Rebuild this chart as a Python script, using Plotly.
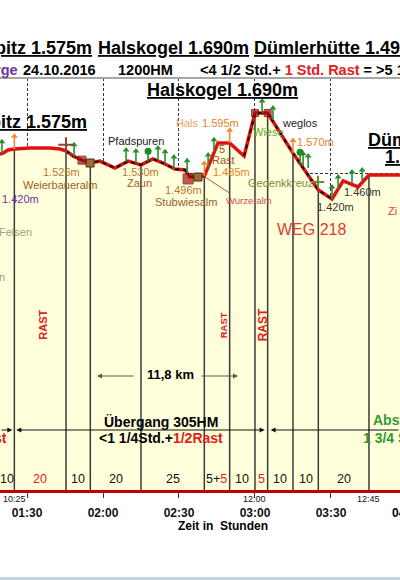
import plotly.graph_objects as go

FONT = "Arial, Liberation Sans, sans-serif"

# ---------------- data ----------------
# elapsed time in minutes since start (09:00) and elevation in m
profile_t = [78, 80.5, 82.5, 85, 91, 99, 103, 105.4, 108.2, 111.7, 115, 118.8, 124.7, 129.9, 135,
             139.7, 143.7, 148.4, 152.4, 154.3, 160, 165.4, 170, 175.7, 180, 185, 195, 205,
             210.4, 214.8, 220.7, 225, 240]
profile_e = [1558, 1564, 1574, 1577, 1580, 1580, 1577, 1571, 1555, 1542, 1533, 1539, 1517, 1539, 1527,
             1546, 1533, 1514, 1511, 1489, 1492, 1596, 1596, 1555, 1690, 1690, 1564, 1448,
             1420, 1477, 1458, 1495, 1495]

marked_path = [(105.4, 160), (175.7, 210.4)]          # dotted (marked path) sections

drop_t = [85, 105.4, 115, 135, 160, 170, 180, 185, 195, 205, 225]

seg_labels = ["10", "20", "10", "20", "25", "5+<span style='color:#E02020'>5</span>", "10", "5", "10", "10", "20"]
seg_center_t = [82, 95, 110, 125, 147.5, 165, 175, 182.5, 190, 200, 215]
seg_rest = [False, True, False, False, False, False, False, True, False, False, False]

clock_labels = ["10:25", "12:00", "12:45"]
clock_t = [85, 180, 225]

tick_t = [90, 120, 150, 180, 210]
tick_text = ["01:30", "02:00", "02:30", "03:00", "03:30"]

rast_t = [96.2, 167.5, 183.3]
rast_size = [11, 9.5, 12]

green_arrow_t = [80.1, 108.6, 129.1, 133, 141.7, 144.5, 148, 153.2, 161.5, 163.8, 182.8, 187.1,
                 199, 201, 210.4, 212.8, 218.3, 222.3]
green_arrow_e = [1562, 1552, 1536, 1533, 1542, 1530, 1514, 1502, 1520, 1568, 1690, 1668,
                 1524, 1517, 1420, 1451, 1467, 1473]
orange_arrow_t = [85, 160, 170, 195]
orange_arrow_e = [1577, 1492, 1596, 1564]
pin_t = [137.8, 197.8]
pin_e = [1536, 1533]
memorial_t = [204.9]
memorial_e = [1473]
summit_cross_t = [105.4]
summit_cross_e = [1590]
hut_red_t = [111.7, 153.6, 180, 185]
hut_red_e = [1542, 1483, 1690, 1690]
hut_red_size = [8, 10, 7, 7]
hut_brown_t = [114.9, 157.5]
hut_brown_e = [1533, 1489]

# ---------------- layout constants ----------------
W, H = 400, 580
X_RANGE = [79.34, 237.25]
Y_RANGE = [506, 1800]
PLOT_TOP, PLOT_BOTTOM = 78, 490

fig = go.Figure()

# cream area under profile
fig.add_trace(go.Scatter(x=profile_t, y=profile_e, mode="lines", fill="tozeroy",
                         fillcolor="#FFFFDC", line=dict(width=0), hoverinfo="skip"))

# drop lines
elev_at = dict(zip(profile_t, profile_e))
dx, dy = [], []
for t in drop_t:
    dx += [t, t, None]
    dy += [elev_at[t], Y_RANGE[0], None]
fig.add_trace(go.Scatter(x=dx, y=dy, mode="lines", line=dict(color="#3A3A3A", width=1.5),
                         hoverinfo="skip"))

# profile line
fig.add_trace(go.Scatter(x=profile_t, y=profile_e, mode="lines",
                         line=dict(color="#E31010", width=3.5), hoverinfo="skip"))
# marked path overlay
for a, b in marked_path:
    st = [t for t in profile_t if a <= t <= b]
    se = [elev_at[t] for t in st]
    fig.add_trace(go.Scatter(x=st, y=se, mode="lines",
                             line=dict(color="#111111", width=2, dash="4px,4px"), hoverinfo="skip"))


def arrows(ts, es, color, stem, head_symbol="triangle-up", head_size=6):
    sx, sy = [], []
    for t, e in zip(ts, es):
        sx += [t, t, None]
        sy += [e, e + stem, None]
    fig.add_trace(go.Scatter(x=sx, y=sy, mode="lines", line=dict(color=color, width=1.6),
                             hoverinfo="skip"))
    fig.add_trace(go.Scatter(x=ts, y=[e + stem for e in es], mode="markers",
                             marker=dict(symbol=head_symbol, size=head_size, color=color),
                             hoverinfo="skip"))


arrows(green_arrow_t, green_arrow_e, "#2A8F2A", 38)
arrows(orange_arrow_t, orange_arrow_e, "#F08A30", 40)
arrows(pin_t, pin_e, "#1E8E1E", 34, head_symbol="circle", head_size=7)

fig.add_trace(go.Scatter(x=memorial_t, y=memorial_e, mode="markers",
                         marker=dict(symbol="cross-thin", size=9, line=dict(color="#6B8E23", width=2)),
                         hoverinfo="skip"))
fig.add_trace(go.Scatter(x=summit_cross_t, y=summit_cross_e, mode="markers",
                         marker=dict(symbol="cross-thin", size=11, line=dict(color="#8B4A2B", width=2)),
                         hoverinfo="skip"))
fig.add_trace(go.Scatter(x=hut_red_t, y=hut_red_e, mode="markers",
                         marker=dict(symbol="square", size=hut_red_size, color="#B01010",
                                     line=dict(color="#400000", width=1)), hoverinfo="skip"))
fig.add_trace(go.Scatter(x=hut_brown_t, y=hut_brown_e, mode="markers",
                         marker=dict(symbol="square", size=8, color="#9C6B3C",
                                     line=dict(color="#4A3010", width=1)), hoverinfo="skip"))

# ---------------- annotations ----------------
anns = []


def lab(text, x, y, color="#000000", size=11, bold=False, xanchor="center", underline=False,
        angle=0):
    anns.append(dict(text=text, x=x / W, y=1 - y / H, xref="paper", yref="paper", showarrow=False,
                     xanchor=xanchor, yanchor="middle", textangle=angle, borderpad=0, borderwidth=0,
                     font=dict(family=FONT, size=size, color=color,
                               weight="bold" if bold else "normal",
                               lineposition="under" if underline else "none")))


# header rows
lab("pitz 1.575m", 92, 48, size=18, bold=True, xanchor="right", underline=True)
lab("Halskogel 1.690m", 98, 48, size=18, bold=True, xanchor="left", underline=True)
lab("Dümlerhütte 1.495m", 254, 48, size=18, bold=True, xanchor="left", underline=True)
lab("rge", 18, 70, color="#7030A0", size=14.5, bold=True, xanchor="right")
lab("24.10.2016", 23, 70, size=14.5, bold=True, xanchor="left")
lab("1200HM", 118, 70, size=14.5, bold=True, xanchor="left")
lab("<4 1/2 Std.+ <span style='color:#E02020'>1 Std. Rast</span> = >5 1/2 Std.", 200, 70,
    size=14.5, bold=True, xanchor="left")

lab("Halskogel 1.690m", 147, 90, size=18, bold=True, xanchor="left", underline=True)
lab("pitz 1.575m", 87, 122, size=18, bold=True, xanchor="right", underline=True)
lab("Dümlerhütte", 368, 140, size=18, bold=True, xanchor="left", underline=True)
lab("1.495m", 385, 157, size=18, bold=True, xanchor="left", underline=True)

# point labels
lab("1.526m", 61, 172, color="#B8782F")
lab("Weierbaueralm", 60, 185, color="#96602B")
lab("1.420m", 20, 199, color="#7030A0")
lab("Felsen", -1, 232, color="#A0A070", xanchor="left")
lab("n", 5, 277, color="#999999", xanchor="right")
lab("Pfadspuren", 136, 141, color="#222222")
lab("1.530m", 140, 172, color="#B8782F")
lab("Zaun", 139, 183, color="#96602B")
lab("1.496m", 183, 190, color="#B8782F")
lab("Stubwiesalm", 186, 202, color="#96602B")
lab("Hals", 187, 123, color="#F0A060")
lab("1.595m", 220, 123, color="#E8822E")
lab("5", 222, 149, color="#A0522D")
lab("Rast", 223, 160, color="#A0522D")
lab("1.485m", 232, 172, color="#E8822E")
lab("Wurzeralm", 249, 200, color="#C0504D", size=9.5)
lab("Wiese", 268, 132, color="#55A630")
lab("weglos", 300, 123, color="#222222")
lab("1.570m", 315, 142, color="#E8822E")
lab("Gedenkkreuz", 280, 183, color="#7A8A3A")
lab("1.420m", 335, 207, color="#333333")
lab("1.460m", 362, 192, color="#333333")
lab("WEG 218", 311, 229, color="#E03C31", size=16)
lab("Zi", 388, 211, color="#E03C31", xanchor="left")

# rest labels (vertical)
for t, s in zip(rast_t, rast_size):
    anns.append(dict(text="RAST", x=t, xref="x", y=1 - 325 / H, yref="paper", showarrow=False,
                     xanchor="center", yanchor="middle", textangle=-90,
                     font=dict(family=FONT, size=s, color="#E02020", weight="bold")))

# distance
lab("11,8 km", 170, 374, size=13, bold=True)
for hx, off in [(97, 38), (238, -38)]:
    anns.append(dict(text="", x=hx / W, y=1 - 376 / H, xref="paper", yref="paper", showarrow=True,
                     ax=off, ay=0, arrowhead=2, arrowsize=1, arrowwidth=1, arrowcolor="#4F5F3F"))

# Übergang
lab("Übergang 305HM", 161, 422, size=14, bold=True)
lab("<1 1/4Std.+<span style='color:#E02020'>1/2Rast</span>", 161, 438, size=14, bold=True)
lab("Rast", 7, 438, color="#E02020", size=14, bold=True, xanchor="right")
lab("Abstieg", 373, 420, color="#339933", size=14, bold=True, xanchor="left")
lab("1 3/4 Std.", 363, 438, color="#339933", size=14, bold=True, xanchor="left")
uebergang = [85, 185]
yline = 1 - 430 / H
for hx, off, so in [(uebergang[0], -40, 2), (uebergang[0], 130, 2), (uebergang[1], -130, 3),
                    (uebergang[1], 150, 3)]:
    anns.append(dict(text="", x=hx, xref="x", y=yline, yref="paper", showarrow=True, ax=off, ay=0,
                     standoff=so, arrowhead=2, arrowsize=1, arrowwidth=1, arrowcolor="#111111"))

# Wurzeralm leader
anns.append(dict(text="", x=205 / W, y=1 - 177 / H, xref="paper", yref="paper", showarrow=True,
                 ax=26, ay=17, arrowhead=0, arrowwidth=1, arrowcolor="#B85450"))

# segment minutes
for txt, t, rest in zip(seg_labels, seg_center_t, seg_rest):
    anns.append(dict(text=txt, x=t, xref="x", y=1 - 479 / H, yref="paper", showarrow=False,
                     xanchor="center", yanchor="middle",
                     font=dict(family=FONT, size=12.5, color="#E02020" if rest else "#111111")))

# clock times
for txt, t in zip(clock_labels, clock_t):
    anns.append(dict(text=txt, x=t, xref="x", y=1 - 499 / H, yref="paper", showarrow=False,
                     xanchor="center", yanchor="middle",
                     font=dict(family=FONT, size=9, color="#111111")))

lab("04:00", 407, 513, size=12, bold=True)
lab("Zeit in  Stunden", 223, 526, size=12, bold=True)

fig.update_layout(
    width=W, height=H, margin=dict(l=0, r=0, t=0, b=0),
    paper_bgcolor="white", plot_bgcolor="white", showlegend=False,
    annotations=anns,
    shapes=[
        dict(type="line", xref="paper", yref="paper", x0=0, x1=1, y0=1 - PLOT_TOP / H,
             y1=1 - PLOT_TOP / H, line=dict(color="#A6A6A6", width=2)),
        dict(type="rect", xref="paper", yref="paper", x0=0, x1=1, y0=0, y1=3 / H,
             fillcolor="#C9D3DD", line=dict(width=0)),
    ],
    xaxis=dict(range=X_RANGE, domain=[0, 1], tickvals=tick_t, ticktext=tick_text,
               showgrid=True, gridcolor="#3A3A3A", griddash="3px,2px", gridwidth=1,
               showline=True, linecolor="#C00000", linewidth=2.5, ticks="outside", ticklen=5,
               tickcolor="#333333", ticklabelstandoff=5, zeroline=False,
               tickfont=dict(family=FONT, size=12, color="#111111", weight="bold")),
    yaxis=dict(range=Y_RANGE, domain=[(H - PLOT_BOTTOM) / H, (H - PLOT_TOP) / H],
               tickvals=[1500], showticklabels=False, showgrid=True, gridcolor="#3A3A3A",
               griddash="3px,2px", gridwidth=1, zeroline=False, showline=False, ticks=""),
)

fig.write_html("out.html", config={"displayModeBar": False},
               post_script="document.body.style.margin='0';")
